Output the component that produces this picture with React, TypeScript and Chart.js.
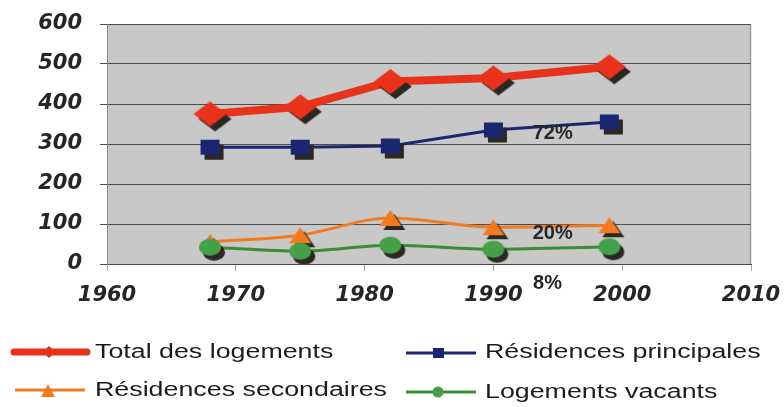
import React, { useEffect, useRef } from "react";
import { Chart, registerables } from "chart.js";

Chart.register(...registerables);

// ---- data ----
const years = [1968, 1975, 1982, 1990, 1999];
const totalLogements = [375, 393, 456, 465, 493];
const residencesPrincipales = [292, 292, 295, 335, 355];
const residencesSecondaires = [55, 72, 115, 92, 97];
const logementsVacants = [42, 32, 47, 37, 43];
const seriesLabels = [
  "Total des logements",
  "Résidences principales",
  "Résidences secondaires",
  "Logements vacants",
];
const xRange = [1960, 2010];
const yRange = [0, 600];
const shareLabels = ["72%", "20%", "8%"];
const shareX = [1994.6, 1994.6, 1994.2];
const shareY = [327, 77, -48];

const COLORS = {
  total: "#e8321c",
  princ: "#1b2672",
  secon: "#f47a20",
  vac: "#3c8c36",
  vacFill: "#45a04a",
};

type Shape = "diamond" | "square" | "triangle" | "ellipse";

function makeMarker(shape: Shape, w: number, h: number, fill: string, dx: number, dy: number) {
  const pad = 2;
  const cw = Math.ceil(w + 2 * (Math.abs(dx) + pad));
  const ch = Math.ceil(h + 2 * (Math.abs(dy) + pad));
  const c = document.createElement("canvas");
  c.width = cw;
  c.height = ch;
  const ctx = c.getContext("2d")!;
  const path = (cx: number, cy: number) => {
    ctx.beginPath();
    if (shape === "diamond") {
      ctx.moveTo(cx, cy - h / 2);
      ctx.lineTo(cx + w / 2, cy);
      ctx.lineTo(cx, cy + h / 2);
      ctx.lineTo(cx - w / 2, cy);
      ctx.closePath();
    } else if (shape === "square") {
      ctx.rect(cx - w / 2, cy - h / 2, w, h);
    } else if (shape === "triangle") {
      ctx.moveTo(cx, cy - h / 2);
      ctx.lineTo(cx + w / 2, cy + h / 2);
      ctx.lineTo(cx - w / 2, cy + h / 2);
      ctx.closePath();
    } else {
      ctx.ellipse(cx, cy, w / 2, h / 2, 0, 0, Math.PI * 2);
    }
  };
  ctx.fillStyle = "#2b2723";
  path(cw / 2 + dx, ch / 2 + dy);
  ctx.fill();
  ctx.fillStyle = fill;
  path(cw / 2, ch / 2);
  ctx.fill();
  return c;
}

const toXY = (vals: number[]) => vals.map((v, i) => ({ x: years[i], y: v }));

export default function App() {
  const canvasRef = useRef<HTMLCanvasElement | null>(null);

  useEffect(() => {
    document.body.style.margin = "0";
    const canvas = canvasRef.current;
    if (!canvas) return;

    const mTotal = makeMarker("diamond", 33, 25, COLORS.total, 5, 5);
    const mPrinc = makeMarker("square", 19, 15, COLORS.princ, 4, 5);
    const mSecon = makeMarker("triangle", 22, 16, COLORS.secon, 4, 4);
    const mVac = makeMarker("ellipse", 22, 17, COLORS.vacFill, 4, 5);

    const plotPlugin = {
      id: "plotDecor",
      beforeDraw(chart: any) {
        const { ctx, chartArea: a } = chart;
        ctx.save();
        ctx.fillStyle = "#c8c8c8";
        ctx.fillRect(a.left, a.top, a.right - a.left, a.bottom - a.top);
        ctx.strokeStyle = "#9c9c9c";
        ctx.lineWidth = 1.5;
        ctx.beginPath();
        ctx.moveTo(a.right - 0.5, a.top);
        ctx.lineTo(a.right - 0.5, a.bottom);
        ctx.stroke();
        ctx.restore();
      },
      afterDraw(chart: any) {
        const { ctx } = chart;
        const xs = chart.scales.x;
        const ys = chart.scales.y;
        ctx.save();
        ctx.font = "bold 20px 'Liberation Sans', Arial, sans-serif";
        ctx.fillStyle = "#262626";
        ctx.textAlign = "center";
        ctx.textBaseline = "middle";
        shareLabels.forEach((t, i) => {
          ctx.fillText(t, xs.getPixelForValue(shareX[i]), ys.getPixelForValue(shareY[i]));
        });
        ctx.restore();
      },
    };

    const tickFont = {
      family: "'DejaVu Sans', sans-serif",
      size: 21,
      weight: "bold" as const,
      style: "italic" as const,
    };

    const chart = new Chart(canvas, {
      type: "line",
      data: {
        datasets: [
          {
            label: seriesLabels[0],
            data: toXY(totalLogements),
            borderColor: COLORS.total,
            borderWidth: 8,
            pointStyle: mTotal,
            pointRadius: 10,
            tension: 0,
            order: 0,
          },
          {
            label: seriesLabels[1],
            data: toXY(residencesPrincipales),
            borderColor: COLORS.princ,
            borderWidth: 3,
            pointStyle: mPrinc,
            pointRadius: 10,
            tension: 0,
            order: 3,
          },
          {
            label: seriesLabels[2],
            data: toXY(residencesSecondaires),
            borderColor: COLORS.secon,
            borderWidth: 3,
            pointStyle: mSecon,
            pointRadius: 10,
            cubicInterpolationMode: "monotone",
            order: 2,
          },
          {
            label: seriesLabels[3],
            data: toXY(logementsVacants),
            borderColor: COLORS.vac,
            borderWidth: 3,
            pointStyle: mVac,
            pointRadius: 10,
            cubicInterpolationMode: "monotone",
            order: 1,
          },
        ] as any,
      },
      options: {
        animation: false,
        responsive: false,
        devicePixelRatio: 1,
        layout: { padding: { top: 24, right: 33, left: 0, bottom: 0 } },
        plugins: {
          legend: { display: false },
          tooltip: { enabled: false },
        },
        scales: {
          x: {
            type: "linear",
            min: xRange[0],
            max: xRange[1],
            ticks: {
              stepSize: 10,
              font: tickFont,
              color: "#262626",
              padding: 12,
              maxRotation: 0,
              callback: (v: any) => String(v),
            },
            grid: { drawOnChartArea: false, tickLength: 7, color: "#a8a8a8" },
            border: { color: "#4c4c4c", width: 1 },
            afterFit: (s: any) => {
              s.height = 56;
              s.paddingLeft = 0;
              s.paddingRight = 0;
            },
          },
          y: {
            type: "linear",
            min: yRange[0],
            max: yRange[1],
            ticks: {
              stepSize: 100,
              font: tickFont,
              color: "#262626",
              padding: 18,
            },
            grid: { color: "#4c4c4c", tickLength: 7, lineWidth: 1 },
            border: { color: "#8c8c8c", width: 1 },
            afterFit: (s: any) => {
              s.width = 107;
              s.paddingTop = 0;
              s.paddingBottom = 0;
            },
          },
        },
      } as any,
      plugins: [plotPlugin],
    });

    return () => chart.destroy();
  }, []);

  const textStyle = (left: number, top: number): React.CSSProperties => ({
    position: "absolute",
    left,
    top,
    fontFamily: "'Liberation Sans', Arial, sans-serif",
    fontSize: 20,
    lineHeight: "20px",
    color: "#1c1c1c",
    whiteSpace: "nowrap",
    transform: "scaleX(1.34)",
    transformOrigin: "left center",
  });

  return (
    <div style={{ position: "relative", width: 784, height: 407, background: "#fff", overflow: "hidden" }}>
      <canvas ref={canvasRef} width={784} height={320} style={{ display: "block" }} />
      <svg width={784} height={407} style={{ position: "absolute", left: 0, top: 0, pointerEvents: "none" }}>
        {/* Total des logements */}
        <line x1={14} y1={352} x2={87} y2={352} stroke={COLORS.total} strokeWidth={7} strokeLinecap="round" />
        <polygon points="49,346 56,352 49,358 42,352" fill={COLORS.total} />
        {/* Résidences secondaires */}
        <line x1={15} y1={390} x2={85} y2={390} stroke={COLORS.secon} strokeWidth={3} />
        <polygon points="48,384 55,397 41,397" fill={COLORS.secon} />
        {/* Résidences principales */}
        <line x1={406} y1={353} x2={476} y2={353} stroke={COLORS.princ} strokeWidth={3} />
        <rect x={433} y={348} width={11} height={10} fill={COLORS.princ} />
        {/* Logements vacants */}
        <line x1={406} y1={392} x2={476} y2={392} stroke={COLORS.vac} strokeWidth={3} />
        <circle cx={438} cy={392} r={5.5} fill={COLORS.vacFill} />
      </svg>
      <span style={textStyle(95, 341)}>{seriesLabels[0]}</span>
      <span style={textStyle(485, 341)}>{seriesLabels[1]}</span>
      <span style={textStyle(95, 379)}>{seriesLabels[2]}</span>
      <span style={textStyle(485, 381)}>{seriesLabels[3]}</span>
    </div>
  );
}
